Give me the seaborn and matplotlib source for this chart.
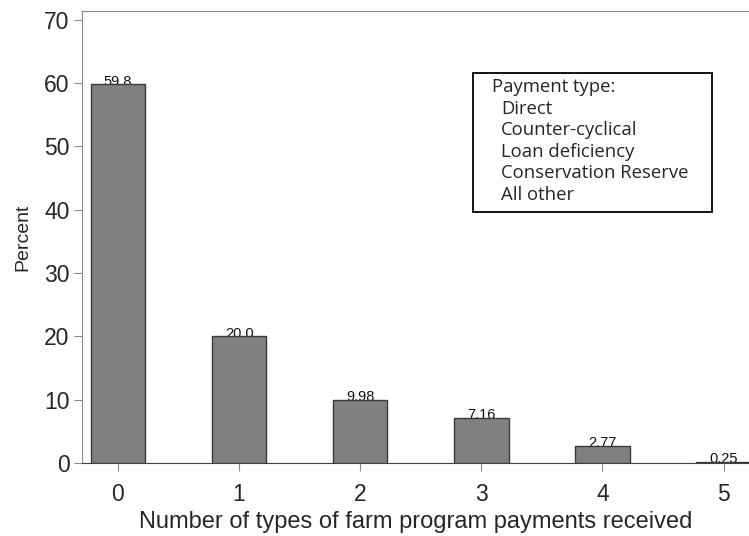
import seaborn as sns
import matplotlib.pyplot as plt
from matplotlib.patches import Rectangle
import pandas as pd

# Data
n_types = ['0', '1', '2', '3', '4', '5']
percent = [59.8, 20.0, 9.98, 7.16, 2.77, 0.25]
bar_labels = ['59.8', '20.0', '9.98', '7.16', '2.77', '0.25']
legend_title = 'Payment type:'
payment_types = ['Direct', 'Counter-cyclical', 'Loan deficiency',
                 'Conservation Reserve', 'All other']

df = pd.DataFrame({'types': n_types, 'percent': percent})

sns.set_style("white")
plt.rcParams['font.family'] = ['Liberation Sans', 'DejaVu Sans']

fig = plt.figure(figsize=(7.49, 5.36), dpi=100)
ax = fig.add_axes([0.1095, 0.136, 0.8905, 0.8435])

sns.barplot(data=df, x='types', y='percent', color='#808080', saturation=1,
            width=0.45, edgecolor='#3a3a3a', linewidth=1.0, ax=ax, zorder=2)

# labels sit just under the bar tops, so the bar edge cuts them slightly
ax.bar_label(ax.containers[0], labels=bar_labels, padding=-3, fontsize=10.5,
             color='#111111', zorder=1)

ax.set_xlim(-0.297, 5.21)
ax.set_ylim(0, 71.4)
ax.set_yticks(range(0, 71, 10))

for side in ['left', 'top']:
    ax.spines[side].set_color('#8a8a8a')
ax.spines['bottom'].set_color('#404040')
ax.spines['right'].set_visible(False)

ax.tick_params(axis='both', which='both', direction='out', length=6,
               color='#8a8a8a', labelsize=16.5, bottom=True, left=True, pad=3)
ax.tick_params(axis='x', pad=8)

ax.set_xlabel('Number of types of farm program payments received',
              fontsize=17, labelpad=4)
ax.set_ylabel('Percent', fontsize=14, labelpad=9)

# Payment type box (text only, no markers)
box = Rectangle((473 / 749, 1 - 212 / 536), 239 / 749, 139 / 536,
                transform=fig.transFigure, facecolor='white',
                edgecolor='black', linewidth=1.3, zorder=5)
fig.add_artist(box)
lfont = ['Open Sans', 'DejaVu Sans']
fig.text(492 / 749, 1 - 87 / 536, legend_title, fontsize=13.3, family=lfont,
         va='center', ha='left', zorder=6)
for i, name in enumerate(payment_types):
    fig.text(501 / 749, 1 - (108.5 + 21.6 * i) / 536, name, fontsize=13.3,
             family=lfont, va='center', ha='left', zorder=6)

fig.savefig('out.png', dpi=100)
